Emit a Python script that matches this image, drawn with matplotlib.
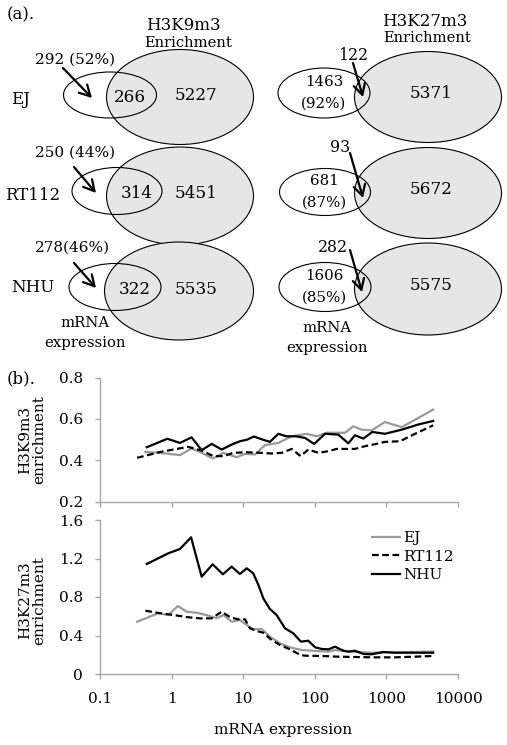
import numpy as np
import matplotlib
matplotlib.use('Agg')
import matplotlib.pyplot as plt
from matplotlib.patches import Ellipse

plt.rcParams['font.family'] = 'DejaVu Serif'

# ==============================
# Data: Venn diagrams (a)
# ==============================
cells = ['EJ', 'RT112', 'NHU']

k9_expr_labels = ['292 (52%)', '250 (44%)', '278(46%)']
k9_overlap = [266, 314, 322]
k9_enrich_only = [5227, 5451, 5535]

k27_expr_only = [1463, 681, 1606]
k27_expr_pct = [92, 87, 85]
k27_overlap = [122, 93, 282]
k27_enrich_only = [5371, 5672, 5575]

# ==============================
# Data: enrichment vs expression (b)
# ==============================
k9_ej_x = [0.43, 0.69, 1.31, 1.9, 2.63, 3.75, 5.3, 8.1, 10.6, 14.6, 20, 31, 47.5, 77,
           106, 147, 264, 345, 452, 624, 955, 1636, 4500]
k9_ej_y = [0.440, 0.436, 0.425, 0.457, 0.436, 0.409, 0.436, 0.415, 0.431, 0.428, 0.473,
           0.484, 0.516, 0.528, 0.516, 0.533, 0.533, 0.564, 0.548, 0.545, 0.585, 0.560, 0.645]

k9_rt_x = [0.33, 0.69, 1.06, 1.7, 2.63, 3.83, 5.3, 7.3, 11.2, 17.2, 25, 34.5, 47.5, 63.5,
           81, 112, 155, 202, 363, 500, 656, 955, 1550, 2375, 4500]
k9_rt_y = [0.412, 0.440, 0.452, 0.465, 0.447, 0.420, 0.420, 0.436, 0.439, 0.436, 0.433,
           0.436, 0.455, 0.420, 0.452, 0.436, 0.444, 0.455, 0.455, 0.468, 0.476, 0.489,
           0.492, 0.524, 0.569]

k9_nhu_x = [0.45, 0.87, 1.31, 1.9, 2.63, 3.63, 5.0, 6.9, 9.0, 11.2, 14.1, 19.1, 23.6, 31,
            40, 55, 73, 98, 139, 213, 294, 364, 476, 636, 955, 1636, 2790, 4500]
k9_nhu_y = [0.463, 0.504, 0.484, 0.511, 0.449, 0.479, 0.452, 0.476, 0.492, 0.499, 0.515,
            0.499, 0.489, 0.528, 0.516, 0.516, 0.508, 0.479, 0.528, 0.524, 0.482, 0.521,
            0.505, 0.537, 0.528, 0.548, 0.573, 0.590]

k27_ej_x = [0.33, 0.65, 0.9, 1.22, 1.63, 2.24, 3.4, 4.26, 5.3, 6.9, 9.0, 11.2, 13.8, 18.1,
            23.6, 32.7, 45, 65, 100, 155, 192, 330, 624, 1320, 4500]
k27_ej_y = [0.543, 0.630, 0.613, 0.706, 0.647, 0.637, 0.603, 0.579, 0.613, 0.543, 0.561,
            0.509, 0.464, 0.468, 0.388, 0.319, 0.277, 0.250, 0.240, 0.232, 0.249, 0.232,
            0.221, 0.225, 0.232]

k27_rt_x = [0.43, 0.62, 1.06, 1.72, 2.5, 3.63, 5.0, 6.6, 8.5, 10.6, 12.4, 15.4, 19.1, 25,
            32.7, 45, 62, 73, 125, 213, 624, 1320, 4500]
k27_rt_y = [0.658, 0.637, 0.613, 0.589, 0.578, 0.578, 0.647, 0.589, 0.568, 0.568, 0.475,
            0.447, 0.429, 0.353, 0.301, 0.256, 0.200, 0.190, 0.187, 0.180, 0.173, 0.173,
            0.187]

k27_nhu_x = [0.45, 0.9, 1.31, 1.87, 2.63, 3.75, 5.2, 6.9, 9.0, 11.2, 13.8, 16.3, 19.1, 23.6,
             29.3, 38.3, 50, 64, 81, 101, 125, 155, 192, 250, 294, 363, 476, 624, 906, 1320,
             4500]
k27_nhu_y = [1.143, 1.254, 1.299, 1.420, 1.011, 1.140, 1.036, 1.115, 1.039, 1.098, 1.046,
             0.925, 0.786, 0.675, 0.613, 0.475, 0.423, 0.336, 0.346, 0.277, 0.260, 0.256,
             0.284, 0.242, 0.232, 0.242, 0.208, 0.205, 0.229, 0.221, 0.221]

x_ticks = [0.1, 1, 10, 100, 1000, 10000]
x_tick_labels = ['0.1', '1', '10', '100', '1000', '10000']

# ==============================
# Figure
# ==============================
W, H = 507, 745
fig = plt.figure(figsize=(W / 100, H / 100), dpi=100)

# overlay in pixel coordinates for part (a)
ov = fig.add_axes([0, 0, 1, 1])
ov.set_xlim(0, W)
ov.set_ylim(H, 0)
ov.axis('off')

GREY_FILL = '#e6e6e6'

# layout of each row: (cx, cy, w, h)
left_small = [(110, 95, 93, 46), (117, 191, 90, 47), (115, 287, 92, 47)]
left_big = [(180, 97, 147, 95), (180, 196, 147, 98), (179, 291, 149, 98)]
right_small = [(324, 93, 92, 50), (325, 192, 91, 47), (325, 287, 92, 49)]
right_big = [(428, 97, 147, 91), (428, 193, 147, 91), (428, 289, 147, 92)]

for el_list, fill in [(left_big, GREY_FILL), (right_big, GREY_FILL),
                      (left_small, 'none'), (right_small, 'none')]:
    for cx, cy, w, h in el_list:
        ov.add_patch(Ellipse((cx, cy), w, h, facecolor=fill, edgecolor='black', lw=0.8))

label_y = [99, 195, 287]
label_x = [20, 33, 33]
for i, c in enumerate(cells):
    ov.text(label_x[i], label_y[i], c, fontsize=12, ha='center', va='center')

arrow_props = dict(arrowstyle='->, head_length=0.55, head_width=0.3', color='black',
                   lw=1.6, mutation_scale=14, shrinkA=0, shrinkB=0)

# H3K9m3 column
k9_expr_pos = [(75, 60), (75, 153), (73, 248)]
k9_arrows = [((63, 68), (92, 98)), ((74, 167), (96, 193)), ((74, 263), (96, 288))]
for i in range(3):
    ov.text(k9_expr_pos[i][0], k9_expr_pos[i][1], k9_expr_labels[i], fontsize=11,
            ha='center', va='center')
    ov.text(left_small[i][0] + 20, left_small[i][1] + 2, str(k9_overlap[i]), fontsize=12.2,
            ha='center', va='center')
    ov.text(196, left_big[i][1] - 2, str(k9_enrich_only[i]), fontsize=12.2,
            ha='center', va='center')
    ov.annotate('', xy=k9_arrows[i][1], xytext=k9_arrows[i][0], arrowprops=arrow_props)

# H3K27m3 column
k27_ov_pos = [(353, 55), (340, 147), (333, 247)]
k27_arrows = [((353, 63), (363, 97)), ((350, 153), (363, 198)), ((350, 250), (362, 292))]
for i in range(3):
    cy = right_small[i][1]
    ov.text(324, cy - 11, str(k27_expr_only[i]), fontsize=10.8, ha='center', va='center')
    ov.text(324, cy + 11, '(%d%%)' % k27_expr_pct[i], fontsize=10.8,
            ha='center', va='center')
    ov.text(431, right_big[i][1] - 3, str(k27_enrich_only[i]), fontsize=12.2,
            ha='center', va='center')
    ov.text(k27_ov_pos[i][0], k27_ov_pos[i][1], str(k27_overlap[i]), fontsize=11.3,
            ha='center', va='center')
    ov.annotate('', xy=k27_arrows[i][1], xytext=k27_arrows[i][0], arrowprops=arrow_props)

ov.text(183, 25, 'H3K9m3', fontsize=12, ha='center', va='center')
ov.text(188, 43, 'Enrichment', fontsize=10.6, ha='center', va='center')
ov.text(425, 21, 'H3K27m3', fontsize=12, ha='center', va='center')
ov.text(427, 38, 'Enrichment', fontsize=10.6, ha='center', va='center')
ov.text(85, 323, 'mRNA', fontsize=10.7, ha='center', va='center')
ov.text(85, 343, 'expression', fontsize=10.7, ha='center', va='center')
ov.text(327, 328, 'mRNA', fontsize=10.7, ha='center', va='center')
ov.text(327, 348, 'expression', fontsize=10.7, ha='center', va='center')
ov.text(7, 15, '(a).', fontsize=12, ha='left', va='center')
ov.text(7, 379, '(b).', fontsize=12, ha='left', va='center')

# ==============================
# Part (b) axes
# ==============================
AX_GREY = '#a6a6a6'
ax1 = fig.add_axes([100 / W, 1 - 501.7 / H, 358 / W, 124.2 / H])
ax2 = fig.add_axes([100 / W, 1 - 674 / H, 358 / W, 154 / H])

lw = 1.6
ax1.plot(k9_ej_x, k9_ej_y, color='#999999', lw=lw)
ax1.plot(k9_rt_x, k9_rt_y, color='black', lw=lw, ls=(0, (3, 1.6)))
ax1.plot(k9_nhu_x, k9_nhu_y, color='black', lw=lw)

ax2.plot(k27_ej_x, k27_ej_y, color='#999999', lw=lw, label='EJ')
ax2.plot(k27_rt_x, k27_rt_y, color='black', lw=lw, ls=(0, (3, 1.6)), label='RT112')
ax2.plot(k27_nhu_x, k27_nhu_y, color='black', lw=lw, label='NHU')

for ax in (ax1, ax2):
    ax.set_xscale('log')
    ax.set_xlim(0.1, 10000)
    ax.set_xticks(x_ticks)
    ax.minorticks_off()
    ax.set_facecolor('none')
    for s in ['top', 'right']:
        ax.spines[s].set_visible(False)
    for s in ['left', 'bottom']:
        ax.spines[s].set_color(AX_GREY)
        ax.spines[s].set_linewidth(1.0)
    ax.tick_params(direction='out', length=3.6, width=1.0, color=AX_GREY,
                   labelsize=11, pad=8.5)

ax1.set_ylim(0.2, 0.8)
ax1.set_yticks([0.2, 0.4, 0.6, 0.8])
ax1.set_yticklabels(['0.2', '0.4', '0.6', '0.8'])
ax1.set_xticklabels([])
ax1.set_ylabel('H3K9m3\nenrichment', fontsize=11, va='center', linespacing=1.05)
ax1.yaxis.set_label_coords(-0.19, 0.5)

ax2.set_ylim(0, 1.6)
ax2.set_yticks([0, 0.4, 0.8, 1.2, 1.6])
ax2.set_yticklabels(['0', '0.4', '0.8', '1.2', '1.6'])
ax2.set_xticklabels(x_tick_labels)
ax2.tick_params(axis='x', pad=9.5)
ax2.set_ylabel('H3K27m3\nenrichment', fontsize=11, va='center', linespacing=1.05)
ax2.yaxis.set_label_coords(-0.19, 0.48)
ax2.set_xlabel('mRNA expression', fontsize=11, va='center')
ax2.xaxis.set_label_coords(0.511, -0.364)

ax2.legend(loc='upper left', bbox_to_anchor=(372 / W, 1 - 531 / H),
           bbox_transform=fig.transFigure, frameon=False, fontsize=11,
           handlelength=1.83, handletextpad=0.2, labelspacing=0.3,
           borderpad=0, borderaxespad=0)

fig.savefig('out.png', dpi=100)
